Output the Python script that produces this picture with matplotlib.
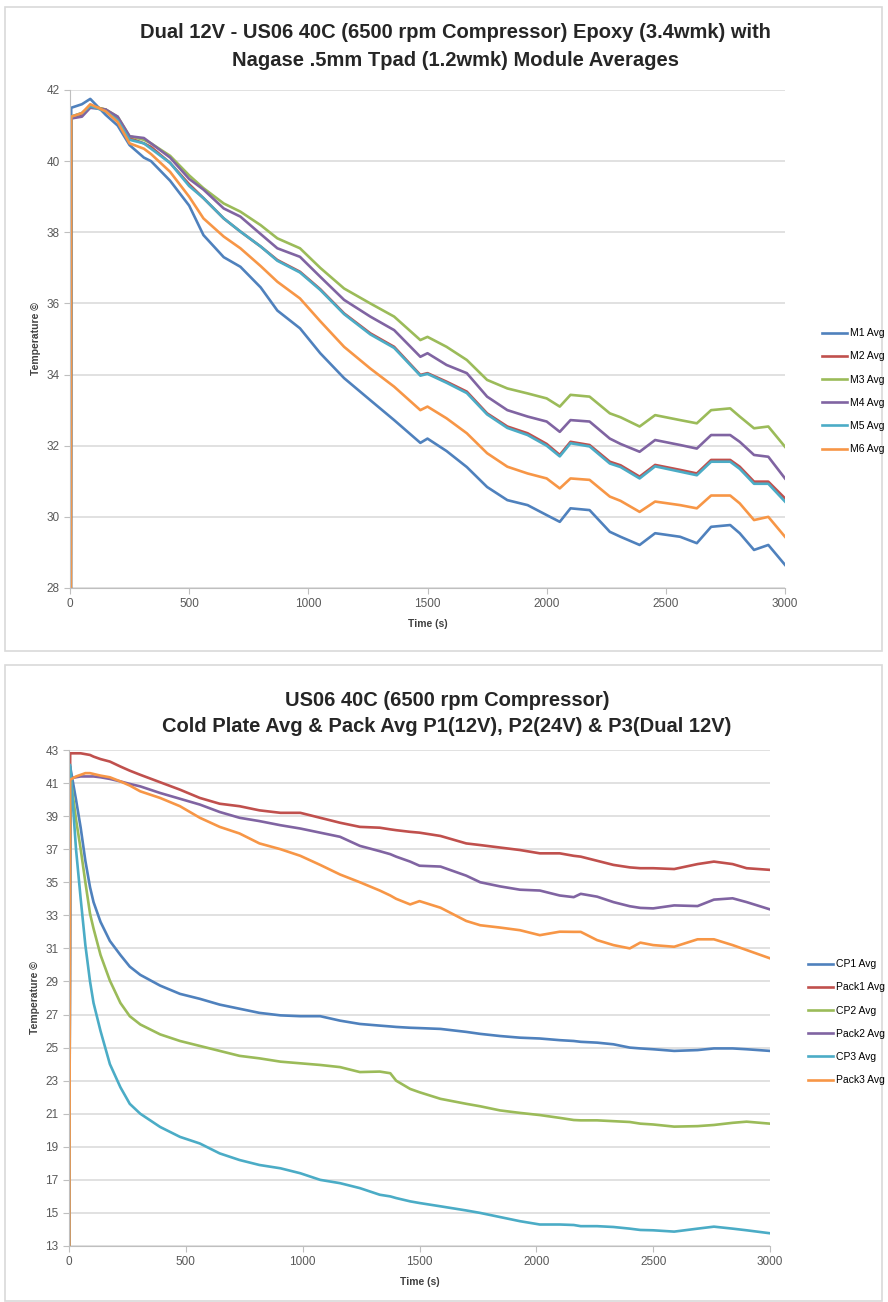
import matplotlib
matplotlib.use("Agg")
import numpy as np
from matplotlib import pyplot as plt
from matplotlib.patches import Rectangle

# ---- top chart: module averages (Dual 12V) ----
t_top = [0, 5, 50, 85, 150, 200, 250, 310, 340, 420, 500, 560, 645, 715, 800, 870, 965, 1050,
         1150, 1260, 1360, 1470, 1500, 1580, 1665, 1750, 1835, 1920, 2000, 2055, 2100, 2180,
         2265, 2310, 2390, 2455, 2560, 2630, 2690, 2770, 2810, 2870, 2930, 3000]
m1 = [0, 41.5, 41.6, 41.75, 41.3, 41.0, 40.45, 40.1, 40.0, 39.45, 38.75, 37.92, 37.3, 37.03,
      36.45, 35.8, 35.3, 34.6, 33.9, 33.28, 32.72, 32.08, 32.2, 31.85, 31.4, 30.84, 30.47,
      30.33, 30.05, 29.86, 30.24, 30.19, 29.58, 29.44, 29.21, 29.54, 29.44, 29.26, 29.72,
      29.77, 29.54, 29.07, 29.21, 28.65]
m2 = [0, 41.2, 41.3, 41.55, 41.45, 41.2, 40.65, 40.5, 40.4, 39.95, 39.35, 38.96, 38.39, 38.02,
      37.6, 37.22, 36.89, 36.4, 35.72, 35.16, 34.78, 33.99, 34.04, 33.8, 33.52, 32.91, 32.54,
      32.35, 32.05, 31.74, 32.11, 32.02, 31.55, 31.45, 31.13, 31.46, 31.32, 31.22, 31.6,
      31.6, 31.41, 30.99, 30.99, 30.52]
m3 = [0, 41.25, 41.35, 41.55, 41.45, 41.25, 40.7, 40.6, 40.5, 40.15, 39.6, 39.24, 38.81, 38.58,
      38.2, 37.83, 37.55, 37.0, 36.42, 36.0, 35.63, 34.97, 35.06, 34.78, 34.41, 33.85, 33.61,
      33.47, 33.33, 33.1, 33.43, 33.38, 32.91, 32.8, 32.54, 32.86, 32.72, 32.63, 33.0,
      33.05, 32.82, 32.49, 32.54, 31.97]
m4 = [0, 41.2, 41.25, 41.5, 41.45, 41.25, 40.7, 40.65, 40.5, 40.1, 39.5, 39.2, 38.67, 38.44,
      37.95, 37.55, 37.31, 36.75, 36.1, 35.63, 35.25, 34.5, 34.6, 34.27, 34.04, 33.38, 33.0,
      32.82, 32.68, 32.39, 32.72, 32.68, 32.2, 32.05, 31.83, 32.16, 32.02, 31.92, 32.3,
      32.3, 32.11, 31.74, 31.69, 31.08]
m5 = [0, 41.25, 41.35, 41.55, 41.4, 41.15, 40.6, 40.5, 40.35, 39.95, 39.3, 38.96, 38.39, 38.02,
      37.6, 37.2, 36.87, 36.38, 35.7, 35.13, 34.75, 33.97, 34.02, 33.77, 33.48, 32.88, 32.5,
      32.3, 32.0, 31.7, 32.07, 31.98, 31.5, 31.4, 31.08, 31.42, 31.27, 31.17, 31.55,
      31.55, 31.35, 30.93, 30.93, 30.43]
m6 = [0, 41.25, 41.35, 41.6, 41.4, 41.1, 40.5, 40.35, 40.2, 39.7, 39.0, 38.39, 37.88, 37.55,
      37.05, 36.61, 36.14, 35.5, 34.78, 34.17, 33.66, 33.0, 33.1, 32.77, 32.35, 31.79, 31.41,
      31.22, 31.08, 30.8, 31.08, 31.04, 30.57, 30.45, 30.14, 30.43, 30.33, 30.24, 30.6,
      30.6, 30.38, 29.91, 30.0, 29.44]
top_names = ["M1 Avg", "M2 Avg", "M3 Avg", "M4 Avg", "M5 Avg", "M6 Avg"]

# ---- bottom chart: cold plate & pack averages ----
t_bot = [0, 5, 30, 50, 70, 90, 105, 135, 175, 220, 260, 305, 390, 475, 560, 645, 730, 815, 905,
         990, 1075, 1160, 1245, 1330, 1375, 1400, 1460, 1500, 1590, 1700, 1760, 1845, 1930, 2015,
         2100, 2160, 2190, 2260, 2330, 2400, 2445, 2500, 2590, 2690, 2760, 2840, 2900, 3000]
cp1 = [0, 42.0, 40.0, 38.3, 36.3, 34.7, 33.8, 32.6, 31.45, 30.6, 29.9, 29.4, 28.75, 28.25, 27.95,
       27.6, 27.35, 27.1, 26.95, 26.9, 26.9, 26.63, 26.43, 26.33, 26.28, 26.25, 26.2, 26.18,
       26.13, 25.95, 25.83, 25.7, 25.6, 25.55, 25.45, 25.4, 25.35, 25.3, 25.2, 25.0, 24.95,
       24.9, 24.8, 24.85, 24.95, 24.95, 24.9, 24.8]
pack1 = [0, 42.8, 42.8, 42.8, 42.75, 42.7, 42.6, 42.45, 42.3, 42.0, 41.75, 41.5, 41.05, 40.6,
         40.1, 39.75, 39.6, 39.35, 39.2, 39.2, 38.9, 38.6, 38.35, 38.3, 38.2, 38.15, 38.05, 38.0,
         37.8, 37.35, 37.25, 37.1, 36.95, 36.75, 36.75, 36.6, 36.55, 36.3, 36.05, 35.9, 35.85,
         35.85, 35.8, 36.1, 36.25, 36.1, 35.85, 35.75]
cp2 = [0, 41.5, 38.8, 37.0, 35.0, 33.1, 32.2, 30.6, 29.05, 27.7, 26.9, 26.4, 25.8, 25.4, 25.1,
       24.8, 24.5, 24.35, 24.15, 24.05, 23.95, 23.82, 23.52, 23.55, 23.45, 23.0, 22.5, 22.3,
       21.9, 21.6, 21.45, 21.2, 21.05, 20.92, 20.75, 20.62, 20.6, 20.6, 20.55, 20.5, 20.4,
       20.35, 20.22, 20.25, 20.32, 20.45, 20.52, 20.4]
pack2 = [0, 41.3, 41.35, 41.4, 41.4, 41.4, 41.4, 41.35, 41.25, 41.1, 40.95, 40.8, 40.4, 40.05,
         39.7, 39.25, 38.9, 38.7, 38.45, 38.25, 38.0, 37.75, 37.2, 36.88, 36.7, 36.55, 36.25,
         36.0, 35.95, 35.4, 35.0, 34.75, 34.55, 34.5, 34.2, 34.1, 34.3, 34.13, 33.8, 33.55,
         33.45, 33.42, 33.6, 33.56, 33.95, 34.03, 33.8, 33.36]
cp3 = [0, 42.1, 37.0, 34.0, 31.2, 29.0, 27.7, 26.0, 24.0, 22.6, 21.6, 21.0, 20.2, 19.6, 19.2,
       18.6, 18.2, 17.9, 17.7, 17.4, 17.0, 16.8, 16.5, 16.1, 16.0, 15.9, 15.7, 15.6, 15.4,
       15.15, 15.0, 14.75, 14.5, 14.3, 14.3, 14.27, 14.2, 14.2, 14.15, 14.05, 13.97, 13.95,
       13.87, 14.05, 14.17, 14.05, 13.95, 13.77]
pack3 = [0, 41.2, 41.4, 41.5, 41.6, 41.6, 41.55, 41.45, 41.35, 41.1, 40.85, 40.5, 40.1, 39.6,
         38.9, 38.35, 37.95, 37.35, 37.0, 36.6, 36.05, 35.47, 35.0, 34.5, 34.2, 34.0, 33.66,
         33.86, 33.46, 32.66, 32.4, 32.26, 32.1, 31.8, 32.01, 32.0, 32.0, 31.5, 31.2, 31.0,
         31.35, 31.2, 31.1, 31.55, 31.55, 31.2, 30.9, 30.4]
bot_names = ["CP1 Avg", "Pack1 Avg", "CP2 Avg", "Pack2 Avg", "CP3 Avg", "Pack3 Avg"]

colors = ["#4F81BD", "#C0504D", "#9BBB59", "#8064A2", "#4BACC6", "#F79646"]
grid_c = "#D9D9D9"
text_c = "#595959"

plt.rcParams['font.family'] = ['Liberation Sans', 'DejaVu Sans']

fig = plt.figure(figsize=(8.88, 13.02), dpi=100)
W, H = 888.0, 1302.0

# chart area borders
fig.patches.append(Rectangle((5 / W, 1 - 651 / H), 877 / W, 644 / H, transform=fig.transFigure,
                             fill=False, edgecolor=grid_c, linewidth=1.2))
fig.patches.append(Rectangle((5 / W, 1 - 1301 / H), 877 / W, 636 / H, transform=fig.transFigure,
                             fill=False, edgecolor=grid_c, linewidth=1.2))


def style_axes(ax, ymin, ymax, ystep):
    ax.set_xlim(0, 3000)
    ax.set_ylim(ymin, ymax)
    ax.set_xticks(np.arange(0, 3001, 500))
    ax.set_yticks(np.arange(ymin, ymax + 0.1, ystep))
    ax.yaxis.grid(True, color=grid_c, linewidth=1.1)
    ax.set_axisbelow(True)
    for s in ["top", "right"]:
        ax.spines[s].set_visible(False)
    for s in ["left", "bottom"]:
        ax.spines[s].set_color("#BFBFBF")
    ax.tick_params(colors="#BFBFBF", labelcolor=text_c, labelsize=8.5, length=4, direction="out")
    ax.set_xlabel("Time (s)", fontsize=7.5, fontweight="bold", color="#404040", labelpad=6)
    ax.set_ylabel("Temperature ©", fontsize=7.5, fontweight="bold", color="#404040", labelpad=4)


def add_legend(ax, x, y):
    fig.legend(*ax.get_legend_handles_labels(), loc="upper left",
               bbox_to_anchor=(x / W, 1 - y / H), frameon=False, fontsize=7.5,
               handlelength=2.4, handletextpad=0.25, labelspacing=1.27, borderpad=0)


# top chart
ax1 = fig.add_axes([70 / W, 1 - 588 / H, 715 / W, 498 / H])
for vals, name, c in zip([m1, m2, m3, m4, m5, m6], top_names, colors):
    ax1.plot(t_top, vals, color=c, linewidth=1.9, label=name)
style_axes(ax1, 28, 42, 2)
fig.text(455 / W, 1 - 33 / H, "Dual 12V - US06 40C (6500 rpm Compressor) Epoxy (3.4wmk) with",
         ha="center", va="center", fontsize=14.5, fontweight="bold", color="#262626")
fig.text(455 / W, 1 - 60 / H, "Nagase .5mm Tpad (1.2wmk) Module Averages",
         ha="center", va="center", fontsize=14.5, fontweight="bold", color="#262626")
add_legend(ax1, 817, 323)

# bottom chart
ax2 = fig.add_axes([69 / W, 1 - 1246 / H, 701 / W, 496 / H])
for vals, name, c in zip([cp1, pack1, cp2, pack2, cp3, pack3], bot_names, colors):
    ax2.plot(t_bot, vals, color=c, linewidth=1.9, label=name)
style_axes(ax2, 13, 43, 2)
fig.text(447 / W, 1 - 700 / H, "US06 40C (6500 rpm Compressor)",
         ha="center", va="center", fontsize=14.5, fontweight="bold", color="#262626")
fig.text(447 / W, 1 - 727 / H, "Cold Plate Avg & Pack Avg P1(12V), P2(24V) & P3(Dual 12V)",
         ha="center", va="center", fontsize=14.5, fontweight="bold", color="#262626")
add_legend(ax2, 803, 954)

fig.savefig("out.png", dpi=100, facecolor="white")
